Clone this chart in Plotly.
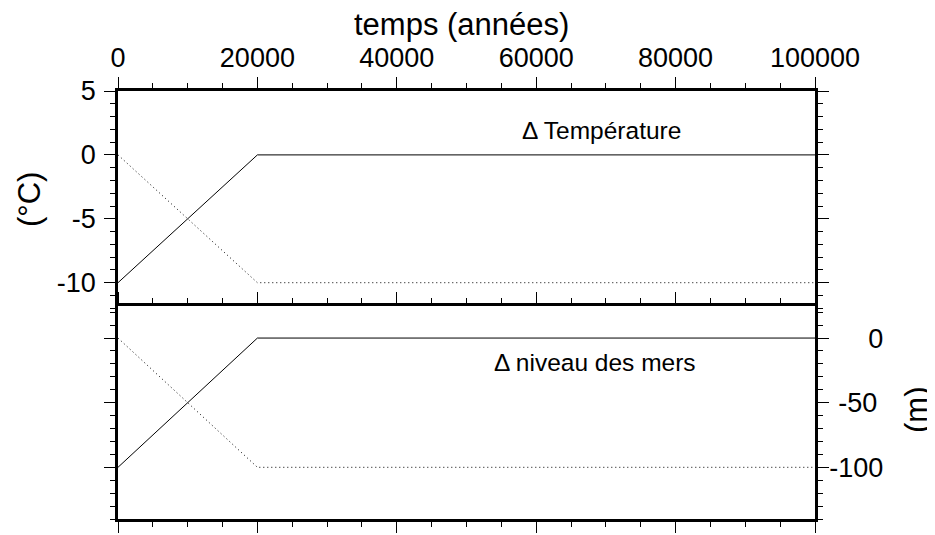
import plotly.graph_objects as go

# Data
time_years = [0, 20000, 100000]
temp_solid = [-10, 0, 0]
temp_dotted = [0, -10, -10]
sea_solid = [-100, 0, 0]
sea_dotted = [0, -100, -100]

x_ticks = [0, 20000, 40000, 60000, 80000, 100000]
temp_ticks = [5, 0, -5, -10]
sea_ticks = [0, -50, -100]
sea_labels = ["0", "-50", "-100"]

FONT = "Liberation Sans, Arial, Helvetica, sans-serif"
HID = '<span style="color:rgba(0,0,0,0)">{}</span>{}'
widest = max(len(s) for s in sea_labels)
# right-align labels by padding with invisible characters of the widest label
sea_ticktext = [HID.format("-100"[: widest - len(s)], s) if len(s) < widest else s for s in sea_labels]

# page body has an 8px margin: shrink the figure so the plot sits where it should
OFF = 8
W, H = 935 - OFF, 535 - OFF
ML, MR, MT, MB = 118 - OFF, 120, 91 - OFF, 16
PH = H - MT - MB  # plot height = 428
PW = W - ML - MR  # plot width = 697

fig = go.Figure()
fig.add_trace(go.Scatter(x=time_years, y=temp_solid, mode="lines",
                         line=dict(color="black", width=1), xaxis="x", yaxis="y", showlegend=False))
fig.add_trace(go.Scatter(x=time_years, y=temp_dotted, mode="lines",
                         line=dict(color="black", width=1, dash="1px,3px"), xaxis="x", yaxis="y", showlegend=False))
fig.add_trace(go.Scatter(x=time_years, y=sea_solid, mode="lines",
                         line=dict(color="black", width=1), xaxis="x2", yaxis="y2", showlegend=False))
fig.add_trace(go.Scatter(x=time_years, y=sea_dotted, mode="lines",
                         line=dict(color="black", width=1, dash="1px,3px"), xaxis="x2", yaxis="y2", showlegend=False))

split = (519 - 307) / PH
half = 1.25 / PH

axis_common = dict(showline=True, linewidth=2.5, linecolor="black", ticks="outside",
                   ticklen=11, tickwidth=1.2, tickcolor="black", mirror="ticks",
                   showgrid=False, zeroline=False,
                   tickfont=dict(family=FONT, size=27, color="black"))

fig.update_layout(
    width=W, height=H,
    margin=dict(l=ML, r=MR, t=MT, b=MB, autoexpand=False),
    paper_bgcolor="white", plot_bgcolor="white",
    font=dict(family=FONT, color="black"),
    xaxis=dict(domain=[0, 1], anchor="y", side="top", range=[0, 100000],
               tickvals=x_ticks, ticktext=[str(v) for v in x_ticks],
               ticklabelstandoff=-1,
               minor=dict(dtick=5000, ticklen=5, tickwidth=1, tickcolor="black", ticks="outside"),
               **axis_common),
    yaxis=dict(domain=[split - half, 1], anchor="x", range=[-12, 5],
               tickvals=temp_ticks, ticktext=[str(v) for v in temp_ticks],
               ticklabelstandoff=3,
               minor=dict(dtick=1, ticklen=5, tickwidth=1, tickcolor="black", ticks="outside"),
               **axis_common),
    xaxis2=dict(domain=[0, 1], anchor="y2", side="bottom", range=[0, 100000],
                tickvals=x_ticks, showticklabels=False,
                minor=dict(dtick=5000, ticklen=5, tickwidth=1, tickcolor="black", ticks="outside"),
                **axis_common),
    yaxis2=dict(domain=[0, split + half], anchor="x2", side="right", range=[-140, 25],
                tickvals=sea_ticks, ticktext=sea_ticktext,
                ticklabelstandoff=-5,
                minor=dict(dtick=10, ticklen=5, tickwidth=1, tickcolor="black", ticks="outside"),
                **axis_common),
)

def px_x(px):
    return (px - 118) / PW

def px_y(py):
    return (519 - py) / PH

annotations = [
    dict(text="temps (années)", xref="paper", yref="paper", x=px_x(461.5),
         y=px_y(24), showarrow=False, xanchor="center", yanchor="middle",
         font=dict(family=FONT, size=31, color="black")),
    dict(text="(°C)", xref="paper", yref="paper", x=px_x(30),
         y=px_y(200), showarrow=False, xanchor="center", yanchor="middle",
         textangle=-90, font=dict(family=FONT, size=31, color="black")),
    dict(text="(m)", xref="paper", yref="paper", x=px_x(916),
         y=px_y(410), showarrow=False, xanchor="center", yanchor="middle",
         textangle=-90, font=dict(family=FONT, size=31, color="black")),
    dict(text="Δ Température", xref="x", yref="y", x=69300, y=1.9,
         showarrow=False, xanchor="center", yanchor="middle",
         font=dict(family=FONT, size=24.5, color="black")),
    dict(text="Δ niveau des mers", xref="x2", yref="y2", x=68500, y=-18.6,
         showarrow=False, xanchor="center", yanchor="middle",
         font=dict(family=FONT, size=24.5, color="black")),
]
fig.update_layout(annotations=annotations)

fig.write_html("out.html")
